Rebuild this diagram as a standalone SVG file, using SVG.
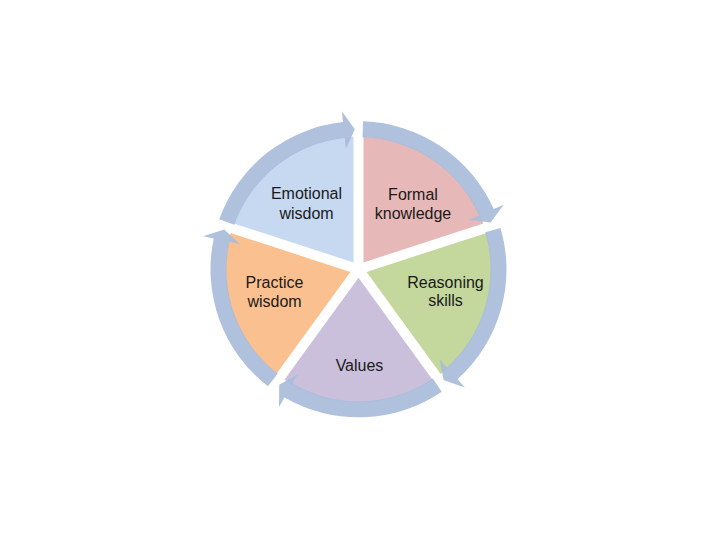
<svg xmlns="http://www.w3.org/2000/svg" xmlns:xlink="http://www.w3.org/1999/xlink" width="720" height="540" viewBox="0 0 720 540">
  <style>
    .lbl { font-family: "Liberation Sans", Arial, sans-serif; font-size: 16px; fill: #1a1a1a; text-anchor: middle; }
    .ring { fill: #a9bcda; opacity: 0.93; }
  </style>
  <defs>
    <path id="sector" d="M6.882,5 L132.906,5 A133,133 0 0 1 45.826,124.857 Z"/>
    <path id="arc" d="M147.931,4.520 A148,148 0 0 1 60.197,135.205 L64.671,145.254 L46.733,131.970 L49.215,110.539 L53.689,120.588 A132,132 0 0 0 131.938,4.031 Z"/>
  </defs>
  <rect width="720" height="540" fill="#ffffff"/>

  <g id="formal-knowledge">
    <use xlink:href="#sector" href="#sector" fill="#e6b9b8" transform="translate(358.5,269.3) rotate(-90)"/>
    <text class="lbl" x="413" y="200">Formal</text>
    <text class="lbl" x="413" y="218.5">knowledge</text>
  </g>
  <g id="reasoning-skills">
    <use xlink:href="#sector" href="#sector" fill="#c4d79c" transform="translate(358.5,269.3) rotate(-18)"/>
    <text class="lbl" x="445.5" y="288.3">Reasoning</text>
    <text class="lbl" x="445.5" y="306">skills</text>
  </g>
  <g id="values">
    <use xlink:href="#sector" href="#sector" fill="#cbc0dc" transform="translate(358.5,269.3) rotate(54)"/>
    <text class="lbl" x="359.5" y="370.7">Values</text>
  </g>
  <g id="practice-wisdom">
    <use xlink:href="#sector" href="#sector" fill="#fac090" transform="translate(358.5,269.3) rotate(126)"/>
    <text class="lbl" x="274.5" y="287.7">Practice</text>
    <text class="lbl" x="274.5" y="306.7">wisdom</text>
  </g>
  <g id="emotional-wisdom">
    <use xlink:href="#sector" href="#sector" fill="#c6d9f1" transform="translate(358.5,269.3) rotate(198)"/>
    <text class="lbl" x="306.5" y="199.3">Emotional</text>
    <text class="lbl" x="306.5" y="219.3">wisdom</text>
  </g>

  <g id="connectors">
    <use xlink:href="#arc" href="#arc" class="ring" transform="translate(358.5,269.3) rotate(-90)"/>
    <use xlink:href="#arc" href="#arc" class="ring" transform="translate(358.5,269.3) rotate(-18)"/>
    <use xlink:href="#arc" href="#arc" class="ring" transform="translate(358.5,269.3) rotate(54)"/>
    <use xlink:href="#arc" href="#arc" class="ring" transform="translate(358.5,269.3) rotate(126)"/>
    <use xlink:href="#arc" href="#arc" class="ring" transform="translate(358.5,269.3) rotate(198)"/>
  </g>
</svg>
